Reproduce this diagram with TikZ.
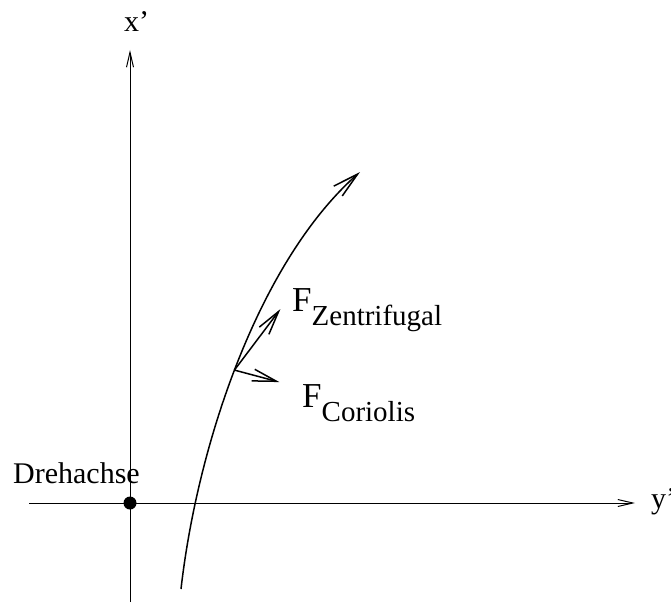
\documentclass[tikz,border=0pt]{standalone}
\usepackage{fontspec}
\setmainfont{Liberation Serif}
\usetikzlibrary{arrows.meta}
\usetikzlibrary{bending}
\tikzset{
	achse/.style={line width=1pt, -{Straight Barb[length=15pt,width=7pt]}},
	bahn/.style={line width=1.5pt, -{Straight Barb[length=26pt,width=13pt]}},
	kraft/.style={line width=1.5pt, -{Straight Barb[length=24pt,width=12pt]}},
	punkt/.style={circle, fill=black, inner sep=0pt, minimum size=13pt},
	beschr/.style={inner sep=0pt, anchor=base west, font=\fontsize{30}{36}\selectfont},
}
\newcommand{\kraftname}[1]{{\fontsize{35}{40}\selectfont F}\raisebox{-14pt}{\fontsize{29}{34}\selectfont #1}}

\begin{document}
\begin{tikzpicture}[x=1pt, y=-1pt]
	\useasboundingbox (0,0) rectangle (671,602);
	% Achsen
	\coordinate (xunten) at (130,602);
	\coordinate (xoben) at (130,50);
	\coordinate (ylinks) at (29,503);
	\coordinate (yrechts) at (635,503);
	\draw[achse] (xunten) -- (xoben);
	\draw[achse] (ylinks) -- (yrechts);
	\node[beschr] (xname) at (124,32) {x'};
	\node[beschr] (yname) at (651,508) {y'};
	\node[punkt] (dreh) at (130,503) {};
	\node[beschr] (drehname) at (13,483) {Drehachse};
	% Bahn
	\coordinate (start) at (181,589);
	\coordinate (ende) at (360,172);
	\draw[bahn] (start) .. controls (198,440) and (261,257) .. (ende) coordinate[pos=0.47] (p);
	% Kraefte
	\coordinate (fz) at ([shift={(46,-61)}]p);
	\coordinate (fc) at ([shift={(45,12)}]p);
	\draw[kraft] (p) -- (fz);
	\draw[kraft] (p) -- (fc);
	\node[beschr] (fzname) at (292,311) {\kraftname{Zentrifugal}};
	\node[beschr] (fcname) at (302,407) {\kraftname{Coriolis}};
\end{tikzpicture}
\end{document}
